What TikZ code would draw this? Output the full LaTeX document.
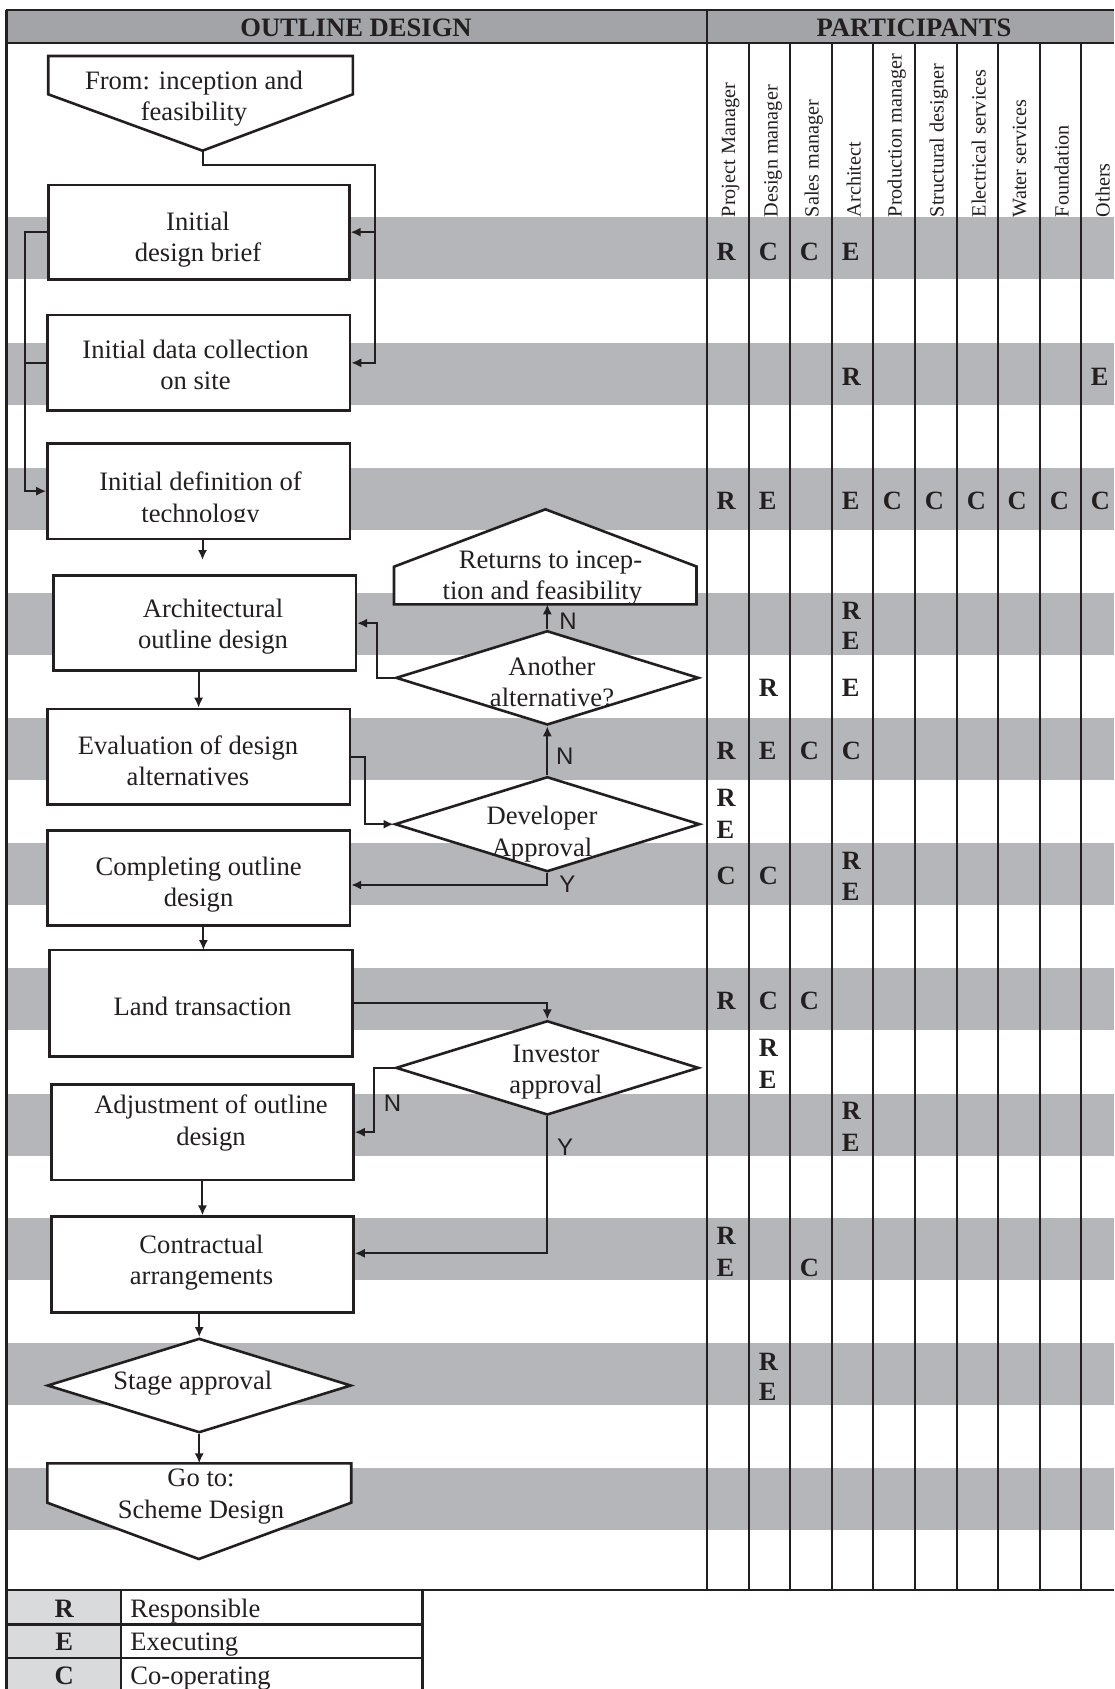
\documentclass[tikz,border=0pt]{standalone}
\usepackage{fontspec}
\setmainfont{Liberation Serif}
\setsansfont{Liberation Sans}
\usetikzlibrary{shapes.geometric,arrows.meta}
\definecolor{ink}{RGB}{35,31,32}
\definecolor{hdrgray}{RGB}{163,164,167}
\definecolor{stripegray}{RGB}{181,182,185}
\definecolor{leggray}{RGB}{217,218,220}
\begin{document}
\begin{tikzpicture}[x=0.5pt,y=-0.5pt,
 box/.style={draw=ink,line width=1.3pt,fill=white,rectangle,inner sep=0pt},
 dia/.style={draw=ink,line width=1.3pt,fill=white,diamond,inner sep=0pt},
 pent/.style={draw=ink,line width=1.3pt,fill=white,line join=miter},
 txt/.style={font=\fontsize{13.3}{15.6}\selectfont,align=center,inner sep=0pt,text=ink},
 legtxt/.style={font=\fontsize{13.3}{15.6}\selectfont,inner sep=0pt,text=ink},
 conn/.style={line width=1pt,draw=ink},
 arr/.style={conn,-{Latex[length=5pt,width=4.6pt]}},
 yn/.style={font=\sffamily\fontsize{12}{12}\selectfont,inner sep=0pt,text=ink},
 rcell/.style={font=\bfseries\fontsize{13.2}{15}\selectfont,inner sep=0pt,anchor=base west,text=ink},
 rot/.style={font=\fontsize{10.1}{12}\selectfont,rotate=90,anchor=base west,inner sep=0pt,text=ink},
 gridline/.style={line width=1.2pt,draw=ink},
 hdr/.style={font=\bfseries\fontsize{13.3}{15}\selectfont,inner sep=0pt,text=ink}]

\useasboundingbox (0,0) rectangle (1114,1689);
\fill[white] (0,0) rectangle (1114,1689);

% header band and stripes
\fill[hdrgray] (6.4,10) rectangle (1114,43.3);
\foreach \t in {216.7,343.3,468.3,593.3,718.3,843.3,968.3,1093.6,1218.3,1343.4,1467.7}
  \fill[stripegray] (6.4,\t) rectangle (1114,\t+62);
\fill[leggray] (6.4,1590) rectangle (120.8,1689);

\node[hdr] (hd1) at (356,28) {OUTLINE DESIGN};
\node[hdr] (hd2) at (914,28) {PARTICIPANTS};

% grid
\draw[gridline] (6.4,10) -- (1114,10);
\draw[gridline] (6.4,43.3) -- (1114,43.3);
\draw[gridline] (6.4,1590) -- (1114,1590);
\draw[gridline] (6.4,10) -- (6.4,1689);
\draw[gridline] (706.7,10) -- (706.7,1590);
\foreach \x in {749,790,832,873,915,957,997.7,1040,1081}
  \draw[gridline] (\x,43.3) -- (\x,1590);

% column labels
\foreach \x/\t [count=\i] in {735.2/Project Manager,777.5/Design manager,818.5/Sales manager,860.5/Architect,901.5/Production manager,943.5/Structural designer,985.5/Electrical services,1026.2/Water services,1068.5/Foundation,1109.5/Others}
  \node[rot] (plab\i) at (\x,217.5) {\t};

% responsibility letters
\foreach \x/\l/\y [count=\i] in {
 716.2/R/260.5, 758.5/C/260.5, 799.5/C/260.5, 841.5/E/260.5,
 841.5/R/386, 1090.5/E/386,
 716.2/R/509.5, 758.5/E/509.5, 841.5/E/509.5, 882.5/C/509.5, 924.5/C/509.5, 966.5/C/509.5, 1007.2/C/509.5, 1049.5/C/509.5, 1090.5/C/509.5,
 841.5/R/619.3, 841.5/E/649.3,
 758.5/R/696.7, 841.5/E/696.7,
 716.2/R/759.3, 758.5/E/759.3, 799.5/C/759.3, 841.5/C/759.3,
 716.2/R/806, 716.2/E/838.3,
 716.2/C/884, 758.5/C/884, 841.5/R/869.3, 841.5/E/900,
 716.2/R/1009.3, 758.5/C/1009.3, 799.5/C/1009.3,
 758.5/R/1056.7, 758.5/E/1088.7,
 841.5/R/1119.3, 841.5/E/1151.9,
 716.2/R/1244.8, 716.2/E/1276, 799.5/C/1276,
 758.5/R/1370, 758.5/E/1400.4}
  \node[rcell] (c\i) at (\x,\y) {\l};

% flowchart shapes
\path[pent] (48.2,56) -- (352.9,56) -- (352.9,94.3) -- (202.5,150.7) -- (48.2,94.3) -- cycle;
\coordinate (ftip) at (202.5,150.7);
\node[txt] (fromtxt) at (194,99) {From: inception and\\feasibility};

\node[box,minimum width=150.55pt,minimum height=47.15pt] (brief) at (198.75,232.15) {};
\node[box,minimum width=151.25pt,minimum height=47.85pt] (collect) at (198.75,362.85) {};
\node[box,minimum width=151.25pt,minimum height=47.85pt] (defn) at (198.75,491.15) {};
\node[box,minimum width=151.05pt,minimum height=47.5pt] (arch) at (204.75,623.2) {};
\node[box,minimum width=151.3pt,minimum height=47.65pt] (eval) at (198.6,756.65) {};
\node[box,minimum width=151.3pt,minimum height=47.5pt] (comp) at (198.6,878.2) {};
\node[box,minimum width=151.3pt,minimum height=53.35pt] (land) at (200.9,1003.35) {};
\node[box,minimum width=151.05pt,minimum height=47.85pt] (adj) at (202.45,1132.15) {};
\node[box,minimum width=151.05pt,minimum height=47.8pt] (contr) at (202.45,1264.5) {};

\path[pent] (394,604.3) -- (394,566.7) -- (545.4,509.3) -- (696.5,566.5) -- (696.5,604.3) -- cycle;
\coordinate (rbot) at (547.3,604.3);

\node[dia,minimum width=151.5pt,minimum height=47.15pt] (another) at (547.3,677.85) {};
\node[dia,minimum width=152.5pt,minimum height=47.5pt] (dev) at (547.3,824.2) {};
\node[dia,minimum width=151.5pt,minimum height=47.15pt] (inv) at (547.3,1067.85) {};
\node[dia,minimum width=151.95pt,minimum height=47.2pt] (stage) at (199.25,1385.5) {};

\path[pent] (47.3,1463.3) -- (351.2,1463.3) -- (351.2,1502.7) -- (198.8,1559) -- (47.3,1502.7) -- cycle;
\coordinate (gtop) at (199.25,1463.3);

% texts
\node[txt] (brieftxt) at (198,240) {Initial\\design brief};
\node[txt] (collecttxt) at (195.5,365) {Initial data collection\\on site};
\begin{scope}
  \clip (47.5,443.3) rectangle (350,521.5);
  \node[txt] (defntxt) at (200.5,500) {Initial definition of\\technology};
\end{scope}
\node[txt,align=right,anchor=east] (rettxt) at (642.5,578) {Returns to incep-\\tion and feasibility};
\node[txt] (archtxt) at (213,627) {Architectural\\outline design};
\node[txt] (anothertxt) at (552,682) {Another\\alternative?};
\node[txt] (evaltxt) at (188,761) {Evaluation of design\\alternatives};
\node[txt] (devtxt) at (542,834) {Developer\\Approval};
\node[txt] (comptxt) at (198.6,885) {Completing outline\\design};
\node[txt] (landtxt) at (202.5,1006) {Land transaction};
\node[txt] (invtxt) at (556,1072) {Investor\\approval};
\node[txt] (adjtxt) at (211,1123) {Adjustment of outline\\design};
\node[txt] (contrtxt) at (201.5,1262.5) {Contractual\\arrangements};
\node[txt] (stagetxt) at (192.8,1383) {Stage approval};
\node[txt] (gototxt) at (201,1496.5) {Go to:\\Scheme Design};

% connectors
\coordinate (rj) at (375,165);
\draw[arr] (ftip) |- (rj) |- (collect.east);
\draw[arr] (rj |- brief.east) -- (brief.east);
\draw[arr] (brief.west) -- ++(-22,0) |- (defn.west);
\draw[conn] (collect.west) -- ++(-21.5,0);
\coordinate (d1) at (202.5,560);
\draw[arr] (d1 |- defn.south) -- (d1);
\draw[arr] (arch.south -| eval.north) -- (eval.north);
\draw[arr] (eval.east) -- ++(14,0) |- (dev.west);
\draw[arr] (dev.north) -- (another.south);
\draw[arr] (another.west) -- ++(-18,0) |- (arch.east);
\draw[arr] (another.north) -- (rbot);
\coordinate (cy) at (547.3,885);
\draw[arr] (dev.south) -- (cy) -- (cy -| comp.east);
\coordinate (d2) at (203.4,950);
\draw[arr] (d2 |- comp.south) -- (d2);
\draw[arr] (land.east) -| (inv.north);
\draw[arr] (inv.west) -- ++(-21,0) |- (adj.east);
\coordinate (cyy) at (547.3,1253.3);
\draw[arr] (inv.south) -- (cyy) -- (cyy -| contr.east);
\draw[arr] (adj.south) -- (contr.north);
\draw[arr] (contr.south -| stage.north) -- (stage.north);
\draw[arr] (stage.south) -- (gtop);

% Y / N labels
\node[yn] (n1) at (568,621.7) {N};
\node[yn] (n2) at (564.8,756) {N};
\node[yn] (y1) at (567.4,884) {Y};
\node[yn] (n3) at (392.5,1103.3) {N};
\node[yn] (y2) at (565,1147) {Y};

% legend
\draw[gridline] (6.4,1624.3) -- (422.4,1624.3);
\draw[gridline] (6.4,1657.7) -- (422.4,1657.7);
\draw[gridline] (120.8,1590) -- (120.8,1689);
\draw[gridline] (422.4,1590) -- (422.4,1689);
\node[hdr,anchor=base] (lr) at (64.3,1617.5) {R};
\node[hdr,anchor=base] (le) at (64.3,1650.7) {E};
\node[hdr,anchor=base] (lc) at (64.3,1684) {C};
\node[legtxt,anchor=base west] (lrt) at (130,1617.5) {Responsible};
\node[legtxt,anchor=base west] (let) at (130,1650.7) {Executing};
\node[legtxt,anchor=base west] (lct) at (130,1684) {Co-operating};
\end{tikzpicture}
\end{document}
